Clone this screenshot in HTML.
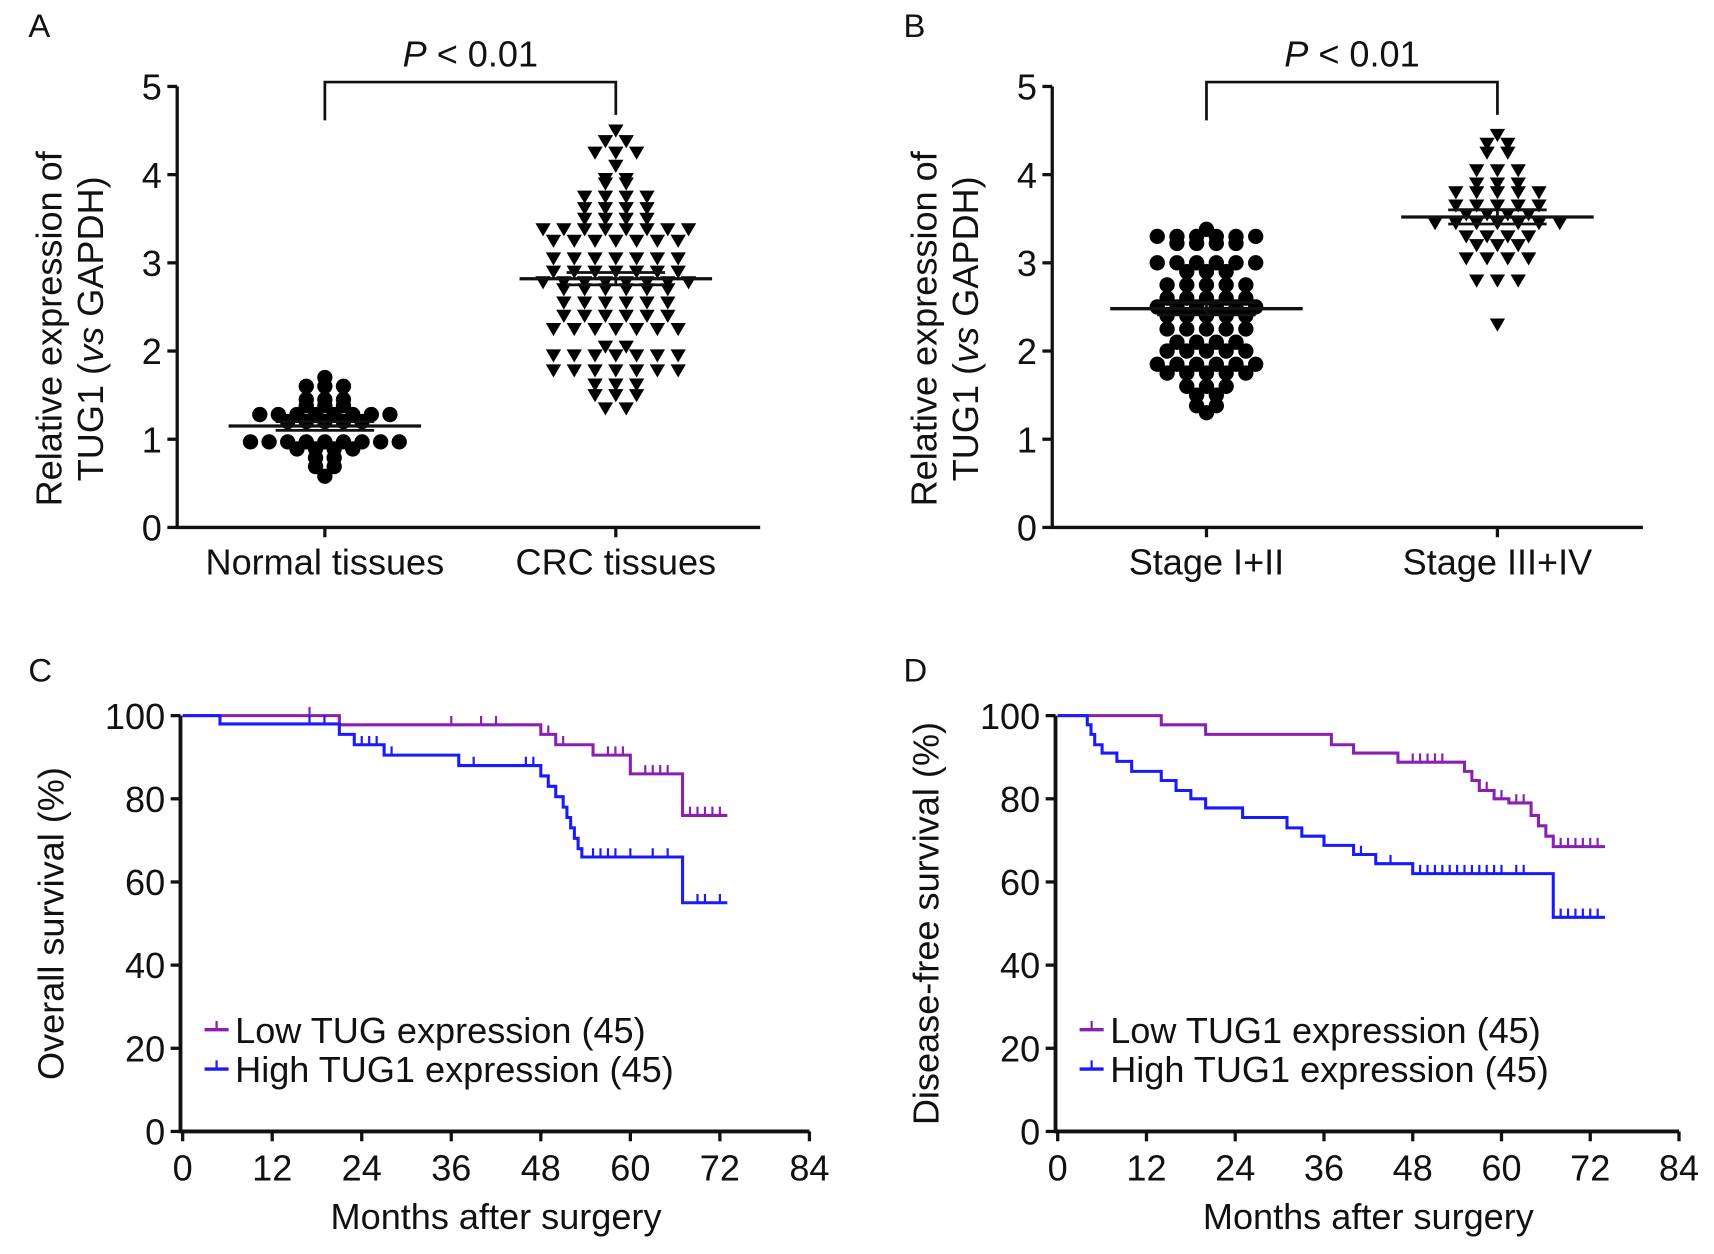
<!DOCTYPE html>
<html><head><meta charset="utf-8"><style>
html,body{margin:0;padding:0;background:#fff;}
svg{display:block;}
text{font-family:"Liberation Sans",Arial,sans-serif;fill:#111;}
</style></head><body>
<svg id="fig" width="1714" height="1254" viewBox="0 0 1567 1146" preserveAspectRatio="none" xmlns="http://www.w3.org/2000/svg"></svg>
<script>
// ---- Panel A data ----
const catsA = ["Normal tissues", "CRC tissues"];
const normalVals = [1.7,1.6,1.6,1.6,1.45,1.45,1.45,1.38,1.38,1.38,1.28,1.28,1.28,1.28,1.28,1.28,1.28,1.28,1.2,1.2,1.2,1.2,1.2,0.97,0.97,0.97,0.97,0.97,0.97,0.97,0.97,0.97,0.89,0.89,0.89,0.89,0.79,0.79,0.69,0.69,0.58];
const crcVals = [4.5,4.38,4.38,4.25,4.25,4.25,4.1,3.95,3.95,3.9,3.9,3.75,3.75,3.75,3.75,3.62,3.62,3.62,3.62,3.5,3.5,3.5,3.5,3.38,3.38,3.38,3.38,3.38,3.38,3.38,3.38,3.25,3.25,3.25,3.25,3.25,3.25,3.25,3.05,3.05,3.05,3.05,3.05,3.05,3.05,2.9,2.9,2.9,2.9,2.9,2.9,2.9,2.78,2.78,2.78,2.78,2.78,2.78,2.78,2.78,2.7,2.7,2.7,2.7,2.7,2.7,2.55,2.55,2.55,2.55,2.55,2.55,2.4,2.4,2.4,2.4,2.4,2.4,2.25,2.25,2.25,2.25,2.25,2.25,2.25,2.05,2.05,1.95,1.95,1.95,1.95,1.95,1.95,1.95,1.78,1.78,1.78,1.78,1.78,1.78,1.78,1.62,1.62,1.62,1.5,1.5,1.5,1.35,1.35];
const meansA = [1.15, 2.82];
const semA = [0.05, 0.07];
// ---- Panel B data ----
const catsB = ["Stage I+II", "Stage III+IV"];
const earlyVals = [3.38,3.3,3.3,3.3,3.3,3.3,3.3,3.22,3.22,3.22,3.22,3.0,3.0,3.0,3.0,3.0,3.0,2.9,2.9,2.9,2.75,2.75,2.75,2.75,2.75,2.6,2.6,2.6,2.6,2.6,2.5,2.5,2.5,2.5,2.5,2.5,2.4,2.4,2.4,2.4,2.4,2.25,2.25,2.25,2.25,2.25,2.1,2.1,2.1,2.1,2.0,2.0,2.0,2.0,2.0,1.85,1.85,1.85,1.85,1.85,1.85,1.75,1.75,1.75,1.75,1.75,1.6,1.6,1.6,1.5,1.5,1.38,1.38,1.3];
const lateVals = [4.45,4.35,4.35,4.25,4.25,4.05,4.05,4.05,3.9,3.9,3.9,3.8,3.8,3.8,3.8,3.8,3.65,3.65,3.65,3.65,3.65,3.55,3.55,3.55,3.55,3.45,3.45,3.45,3.45,3.45,3.45,3.45,3.3,3.3,3.3,3.3,3.2,3.2,3.2,3.05,3.05,3.05,3.05,2.8,2.8,2.8,2.3];
const meansB = [2.48, 3.52];
const semB = [0.07, 0.08];
const yTicksAB = [0,1,2,3,4,5];
// ---- Panel C data (overall survival) ----
const osLowT = [0,21,48,50,55,60,67,73];
const osLowS = [100,97.8,95.5,93,90.5,86,76,76];
const osLowCens = [17,36,40,42,49,50,51,57,58,59,62,63,64,65,68,69,70,71,72];
const osHighT = [0,5,21,23,27,37,48,49,50,51,51.5,52,52.5,53,53.5,54,67,73];
const osHighS = [100,98,95.5,93,90.5,88,85.5,83,80.5,78,75.5,73,70.5,68,66,66,55,55];
const osHighCens = [17,19,24,25,26,28,39,46,47,55,56,57,58,60,63,65,69,70,72];
// ---- Panel D data (disease-free survival) ----
const dfsLowT = [0,14,20,37,40,46,55,56,57,59,61,64,65,66,67,74];
const dfsLowS = [100,97.8,95.5,93,91,88.8,86.6,84.4,82,80,79,76,73.5,71,68.5,68.5];
const dfsLowCens = [48,49,50,51,52,56,58,60,62,63,68,69,70,71,72,73];
const dfsHighT = [0,4,4.5,5,6,8,10,14,16,18,20,25,31,33,36,40,43,48,50,67,74];
const dfsHighS = [100,97.8,95.5,93,91,89,86.6,84.4,82,80,77.8,75.5,73,71,68.8,66.6,64.4,62,62,51.5,51.5];
const dfsHighCens = [41,45,49,50,51,52,53,54,55,56,57,58,59,60,62,63,68,69,70,71,72,73];
const xTicksKM = [0,12,24,36,48,60,72,84];
const yTicksKM = [0,20,40,60,80,100];

const NS = "http://www.w3.org/2000/svg";
const svg = document.getElementById('fig');
const FS = 33;
function mk(tag, attrs, parent, txt){
  const e = document.createElementNS(NS, tag);
  for (const k in attrs) e.setAttribute(k, attrs[k]);
  if (txt !== undefined) e.textContent = txt;
  (parent || svg).appendChild(e);
  return e;
}
function grp(name){
  const g = mk('g', {});
  
  
  return g;
}

function scatterPanel(o){
  const g = grp(o.name);
  const yS = v => o.y0 - (v/5)*(o.y0 - o.y5);
  const ya = mk('line', {x1:o.ax, y1:o.y5, x2:o.ax, y2:o.y0+1, stroke:'#111','stroke-width':3}, g);
   
  const xa = mk('line', {x1:o.ax-1, y1:o.y0, x2:o.xEnd, y2:o.y0, stroke:'#111','stroke-width':3}, g);
   
  yTicksAB.forEach(t=>{
    mk('line',{x1:o.ax-9,y1:yS(t),x2:o.ax,y2:yS(t),stroke:'#111','stroke-width':3},g);
    const tl = mk('text',{x:o.ax-14,y:yS(t)+12,'font-size':FS,'text-anchor':'end'},g,String(t));
     
  });
  o.cats.forEach((c,i)=>{
    mk('line',{x1:o.cx[i],y1:o.y0,x2:o.cx[i],y2:o.y0+9,stroke:'#111','stroke-width':3},g);
    const cl = mk('text',{x:o.cx[i],y:o.y0+43,'font-size':FS,'text-anchor':'middle'},g,c);
     
  });
  const yt = mk('text',{transform:`translate(${o.ax-106},${(o.y0+o.y5)/2+20}) rotate(-90)`,'font-size':FS,'text-anchor':'middle'},g);
   
  mk('tspan',{x:0,dy:0},yt,'Relative expression of');
  mk('tspan',{x:0,dy:38},yt,'TUG1 (');
  mk('tspan',{'font-style':'italic'},yt,'vs');
  mk('tspan',{},yt,' GAPDH)');
  const br = mk('path',{d:`M${o.cx[0]},${o.brL} V75 H${o.cx[1]} V${o.brR}`,fill:'none',stroke:'#111','stroke-width':2.5},g);
   
  const pt = mk('text',{x:(o.cx[0]+o.cx[1])/2,y:61,'font-size':FS,'text-anchor':'middle'},g);
   
  mk('tspan',{'font-style':'italic'},pt,'P');
  mk('tspan',{},pt,' < 0.01');
  o.series.forEach((vals,i)=>{
    const groups = {};
    vals.forEach(v=>{(groups[v]=groups[v]||[]).push(v);});
    Object.keys(groups).forEach(k=>{
      const n = groups[k].length, v = +k;
      for (let j=0;j<n;j++){
        const x = o.cx[i] + (j-(n-1)/2)*o.sp[i];
        const y = yS(v);
        let m;
        if (o.shapes[i]==='circle') m = mk('circle',{cx:x,cy:y,r:7,fill:'#000'},g);
        else m = mk('path',{d:`M${x-7},${y-5.5} L${x+7},${y-5.5} L${x},${y+6.5} Z`,fill:'#000'},g);
        
        
      }
    });
    const mean = o.means[i], se = o.sem[i];
    const ml = mk('line',{x1:o.cx[i]-88,y1:yS(mean),x2:o.cx[i]+88,y2:yS(mean),stroke:'#111','stroke-width':3},g);
     
    [mean-se, mean+se].forEach(v=>mk('line',{x1:o.cx[i]-45,y1:yS(v),x2:o.cx[i]+45,y2:yS(v),stroke:'#111','stroke-width':2.5},g));
    mk('line',{x1:o.cx[i],y1:yS(mean-se),x2:o.cx[i],y2:yS(mean+se),stroke:'#111','stroke-width':2.5},g);
  });
  const pl = mk('text',{x:o.lx,y:34,'font-size':30},g,o.letter);
   
}

scatterPanel({name:'panel-a-scatter',letter:'A',lx:26,ax:162,xEnd:695,y0:482,y5:79,cx:[297,563],brL:110,brR:105,sp:[17,19],
  cats:catsA,series:[normalVals,crcVals],means:meansA,sem:semA,shapes:['circle','tri'],pointName:['normal-point','crc-point']});
scatterPanel({name:'panel-b-scatter',letter:'B',lx:826,ax:962,xEnd:1502,y0:482,y5:79,cx:[1103,1369],brL:110,brR:105,sp:[18,19],
  cats:catsB,series:[earlyVals,lateVals],means:meansB,sem:semB,shapes:['circle','tri'],pointName:['stage-early-point','stage-late-point']});

function kmPanel(o){
  const g = grp(o.name);
  const xS = t => o.x0 + t/84*(o.x84-o.x0);
  const yS = s => o.y0 - s/100*(o.y0-o.y100);
  const ya = mk('line',{x1:o.ax,y1:o.y100,x2:o.ax,y2:o.y0+1,stroke:'#111','stroke-width':3.5},g);
   
  const xa = mk('line',{x1:o.ax-1,y1:o.y0,x2:o.x84,y2:o.y0,stroke:'#111','stroke-width':3.5},g);
   
  yTicksKM.forEach(t=>{
    mk('line',{x1:o.ax-9,y1:yS(t),x2:o.ax,y2:yS(t),stroke:'#111','stroke-width':3},g);
    const tl = mk('text',{x:o.ax-14,y:yS(t)+12,'font-size':FS,'text-anchor':'end'},g,String(t));
     
  });
  xTicksKM.forEach(t=>{
    mk('line',{x1:xS(t),y1:o.y0,x2:xS(t),y2:o.y0+9,stroke:'#111','stroke-width':3},g);
    const tl = mk('text',{x:xS(t),y:o.y0+45,'font-size':FS,'text-anchor':'middle'},g,String(t));
     
  });
  const xt = mk('text',{x:(o.x0+o.x84)/2,y:o.y0+89,'font-size':FS,'text-anchor':'middle'},g,'Months after surgery');
   
  const yt = mk('text',{transform:`translate(${o.ax-107},${(o.y0+o.y100)/2}) rotate(-90)`,'font-size':FS,'text-anchor':'middle'},g,o.ytitle);
   
  o.curves.forEach(c=>{
    let d = `M${xS(c.t[0])},${yS(c.s[0])}`;
    for (let i=1;i<c.t.length;i++){ d += ` H${xS(c.t[i])} V${yS(c.s[i])}`; }
    const p = mk('path',{d,fill:'none',stroke:c.color,'stroke-width':2.8},g);
    
    
    c.cens.forEach(ct=>{
      let s = c.s[0];
      for (let i=0;i<c.t.length;i++){ if (c.t[i] <= ct) s = c.s[i]; }
      const m = mk('line',{x1:xS(ct),y1:yS(s),x2:xS(ct),y2:yS(s)-8,stroke:c.color,'stroke-width':2},g);
      
      
    });
  });
  o.legend.forEach((l,i)=>{
    const y = 941 + i*36;
    const lg = mk('g',{},g);
    
    
    mk('line',{x1:o.ax+22,y1:y,x2:o.ax+44,y2:y,stroke:l.color,'stroke-width':3},lg);
    mk('line',{x1:o.ax+33,y1:y,x2:o.ax+33,y2:y-8,stroke:l.color,'stroke-width':2},lg);
    mk('text',{x:o.ax+50,y:y+12,'font-size':FS},lg,l.text);
  });
  const pl = mk('text',{x:o.lx,y:623,'font-size':30},g,o.letter);
   
}
const PURPLE = '#8a1fb0', BLUE = '#1a1aff';
kmPanel({name:'panel-c-overall-survival',letter:'C',lx:26,ax:165,x0:167,x84:740,y0:1034,y100:654,ytitle:'Overall survival (%)',
  curves:[{t:osLowT,s:osLowS,cens:osLowCens,color:PURPLE,name:'low-tug1-curve'},{t:osHighT,s:osHighS,cens:osHighCens,color:BLUE,name:'high-tug1-curve'}],
  legend:[{color:PURPLE,text:'Low TUG expression (45)'},{color:BLUE,text:'High TUG1 expression (45)'}]});
kmPanel({name:'panel-d-disease-free-survival',letter:'D',lx:826,ax:965,x0:967,x84:1535,y0:1034,y100:654,ytitle:'Disease-free survival (%)',
  curves:[{t:dfsLowT,s:dfsLowS,cens:dfsLowCens,color:PURPLE,name:'low-tug1-curve'},{t:dfsHighT,s:dfsHighS,cens:dfsHighCens,color:BLUE,name:'high-tug1-curve'}],
  legend:[{color:PURPLE,text:'Low TUG1 expression (45)'},{color:BLUE,text:'High TUG1 expression (45)'}]});
</script>
</body></html>
